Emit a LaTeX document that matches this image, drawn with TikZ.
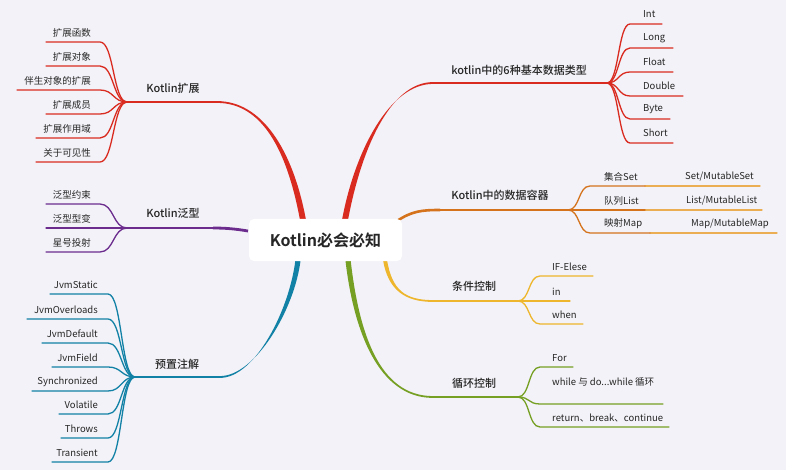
\documentclass[tikz,border=0pt]{standalone}
\usepackage{fontspec}
\setmainfont{Noto Sans CJK SC}
\newfontfamily\boldcjk{Noto Sans CJK SC Bold}
\newfontfamily\medcjk{Noto Sans CJK SC Medium}
\definecolor{bg}{HTML}{F3F2F8}
\definecolor{cred}{HTML}{D92B20}
\definecolor{cpurple}{HTML}{6B2C8E}
\definecolor{cteal}{HTML}{1281A6}
\definecolor{corange}{HTML}{D4731C}
\definecolor{clorange}{HTML}{EBAE52}
\definecolor{cyellow}{HTML}{EDB62C}
\definecolor{cgreen}{HTML}{76A024}
\definecolor{ctext}{HTML}{262626}
\newcommand\mythreedots{...}
\newcommand\vtrunk[6]{% colour, P0, C1, C2, P1, half width at start (bare coordinates)
  \fill[#1] ([xshift=-#6]#2) .. controls ([xshift=-#6]#3) and ([yshift=-0.9pt]#4) .. ([yshift=-0.9pt]#5)
    -- ([yshift=0.9pt]#5) .. controls ([yshift=0.9pt]#4) and ([xshift=#6]#3) .. ([xshift=#6]#2) -- cycle;}
\tikzset{
  leaf/.style={font=\fontsize{9.5}{11}\selectfont, text=ctext, inner sep=0pt},
  cat/.style={font=\medcjk\fontsize{11}{13}\selectfont, text=ctext, inner sep=0pt},
  twig/.style={line width=1.3pt, line cap=round},
  limb/.style={line width=1.8pt, line cap=round},
}
\begin{document}
\begin{tikzpicture}[x=1pt,y=-1pt]
\fill[bg] (0,0) rectangle (786,470);
\useasboundingbox (0,0) rectangle (786,470);

% ---------- anchor coordinates ----------
\coordinate (sA) at (303,220); \coordinate (kA) at (217,102); \coordinate (hA) at (127,102);
\coordinate (sB) at (248,231); \coordinate (kB) at (213,228); \coordinate (hB) at (127,228);
\coordinate (sC) at (298,260); \coordinate (kC) at (220,377); \coordinate (hC) at (135,377);
\coordinate (sD) at (345,220); \coordinate (kD) at (433,83);  \coordinate (hD) at (607,83);
\coordinate (sE) at (397,221); \coordinate (kE) at (440,210); \coordinate (hE) at (568,210);
\coordinate (sF) at (385,260); \coordinate (kF) at (433,301); \coordinate (hF) at (518,301);
\coordinate (sG) at (348,260); \coordinate (kG) at (433,397); \coordinate (hG) at (518,397);

% ---------- trunks ----------
\vtrunk{cred}{sA}{290,150}{262,102}{kA}{3pt}
\draw[cred,limb] (kA) -- (hA);
\vtrunk{cred}{sD}{358,150}{390,83}{kD}{3pt}
\draw[cred,limb] (kD) -- (hD);
\vtrunk{cteal}{sC}{292,310}{255,377}{kC}{2.6pt}
\draw[cteal,limb] (kC) -- (hC);
\vtrunk{cgreen}{sG}{356,330}{378,397}{kG}{2.6pt}
\draw[cgreen,limb] (kG) -- (hG);
\vtrunk{cyellow}{sF}{390,290}{405,301}{kF}{2pt}
\draw[cyellow,limb] (kF) -- (hF);
\draw[corange,line width=2.6pt] (sE) .. controls (412,211) and (422,210) .. (kE);
\draw[corange,limb] (kE) -- (hE);
\draw[cpurple,line width=2.8pt] (sB) .. controls (236,229) and (226,228) .. (kB);
\draw[cpurple,limb] (kB) -- (hB);

% ---------- centre ----------
\node[fill=white, rounded corners=5pt, minimum width=153pt, minimum height=42pt, inner sep=0pt,
      font=\boldcjk\fontsize{16}{18}\selectfont, text=ctext] (root) at (325.5,240) {Kotlin必会必知};

% ---------- category labels ----------
\node[cat] (catA) at (173,88)  {Kotlin扩展};
\node[cat] (catB) at (173,213) {Kotlin泛型};
\node[cat] (catC) at (177,364) {预置注解};
\node[cat] (catD) at (519,70)  {kotlin中的6种基本数据类型};
\node[cat] (catE) at (500,195) {Kotlin中的数据容器};
\node[cat] (catF) at (474,286) {条件控制};
\node[cat] (catG) at (474,383) {循环控制};

% ---------- Kotlin扩展 ----------
\foreach \n/\y/\l/\t in {1/42/46/扩展函数, 2/66/46/扩展对象, 3/90/17/伴生对象的扩展, 4/114/46/扩展成员, 5/138/36/扩展作用域, 6/162/36/关于可见性}{
  \coordinate (aB\n) at (100,\y); \coordinate (aE\n) at (\l,\y);
  \node[leaf,anchor=east] (aT\n) at (91,\y-9) {\t};
  \draw[cred,twig] (hA) .. controls +(-14,0) and +(14,0) .. (aB\n) -- (aE\n);
}
% ---------- Kotlin泛型 ----------
\foreach \n/\y/\t in {1/204/泛型约束, 2/228/泛型型变, 3/252/星号投射}{
  \coordinate (bB\n) at (100,\y); \coordinate (bE\n) at (46,\y);
  \node[leaf,anchor=east] (bT\n) at (91,\y-9) {\t};
  \draw[cpurple,twig] (hB) .. controls +(-14,0) and +(14,0) .. (bB\n) -- (bE\n);
}
% ---------- 预置注解 ----------
\foreach \n/\y/\l/\t in {1/294/50/JvmStatic, 2/319/27/JvmOverloads, 3/343/42/JvmDefault, 4/367/52/JvmField, 5/391/32/Synchronized, 6/414/59/Volatile, 7/438/61/Throws, 8/462/52/Transient}{
  \coordinate (cB\n) at (108,\y); \coordinate (cE\n) at (\l,\y);
  \node[leaf,anchor=east] (cT\n) at (98,\y-9) {\t};
  \draw[cteal,twig] (hC) .. controls +(-14,0) and +(14,0) .. (cB\n) -- (cE\n);
}
% ---------- 6 basic types ----------
\foreach \n/\y/\r/\t in {1/24/662/Int, 2/48/673/Long, 3/72/673/Float, 4/96/683/Double, 5/119/670/Byte, 6/143/673/Short}{
  \coordinate (dB\n) at (630,\y); \coordinate (dE\n) at (\r,\y);
  \node[leaf,anchor=west] (dT\n) at (643,\y-10) {\t};
  \draw[cred,twig] (hD) .. controls +(12,0) and +(-12,0) .. (dB\n) -- (dE\n);
}
% ---------- containers ----------
\foreach \n/\y/\m/\r/\t/\s/\sx in {1/186/645/760/集合Set/Set\slash MutableSet/685, 2/210/645/762/队列List/List\slash MutableList/686, 3/233/650/777/映射Map/Map\slash MutableMap/691}{
  \coordinate (eB\n) at (590,\y); \coordinate (eM\n) at (\m,\y); \coordinate (eE\n) at (\r,\y);
  \node[leaf,anchor=west] (eT\n) at (604,\y-9) {\t};
  \node[leaf,anchor=west] (eS\n) at (\sx,\y-9) {\s};
  \draw[clorange,twig] (eM\n) -- (eE\n);
  \draw[corange,twig] (hE) .. controls +(12,0) and +(-12,0) .. (eB\n) -- (eM\n);
}
% ---------- 条件控制 ----------
\foreach \n/\y/\r/\t in {1/276/593/IF-Elese, 2/301/570/in, 3/324/583/when}{
  \coordinate (fB\n) at (540,\y); \coordinate (fE\n) at (\r,\y);
  \node[leaf,anchor=west] (fT\n) at (552,\y-9) {\t};
  \draw[cyellow,twig] (hF) .. controls +(12,0) and +(-12,0) .. (fB\n) -- (fE\n);
}
% ---------- 循环控制 ----------
\foreach \n/\y/\ty/\r/\t in {1/367/358/573/For, 2/404/382/663/{while 与 do\mythreedots while 循环}, 3/427/418/669/{return、break、continue}}{
  \coordinate (gB\n) at (540,\y); \coordinate (gE\n) at (\r,\y);
  \node[leaf,anchor=west] (gT\n) at (552,\ty) {\t};
  \draw[cgreen,twig] (hG) .. controls +(12,0) and +(-12,0) .. (gB\n) -- (gE\n);
}
\end{tikzpicture}
\end{document}
